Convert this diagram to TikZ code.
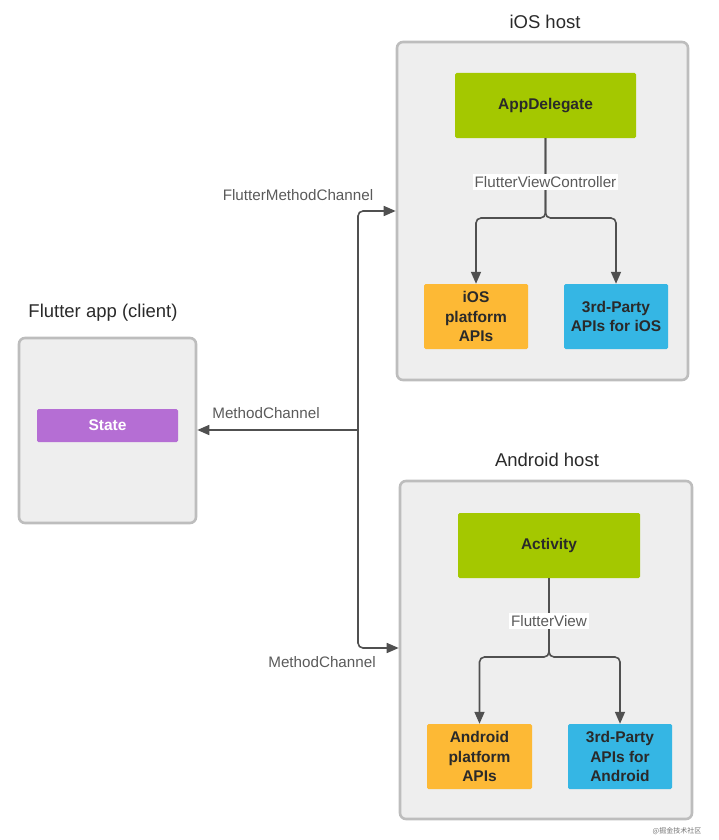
\documentclass[tikz,border=0pt]{standalone}
\usepackage{fontspec}
\setmainfont{Liberation Sans}
\newfontfamily\cjkfont{Noto Sans CJK SC}
\usetikzlibrary{arrows.meta}
\definecolor{hostfill}{HTML}{EEEEEE}
\definecolor{hostline}{HTML}{BDBDBD}
\definecolor{leafgreen}{HTML}{A4C800}
\definecolor{apiorange}{HTML}{FDB935}
\definecolor{apiblue}{HTML}{35B6E4}
\definecolor{statepurple}{HTML}{B56ED4}
\definecolor{conncol}{HTML}{505050}
\definecolor{labelcol}{HTML}{5A5A5A}
\definecolor{titlecol}{HTML}{2A2A2A}
\tikzset{
  hostbox/.style={draw=hostline, fill=hostfill, line width=2.6pt, rounded corners=6pt, inner sep=0pt},
  inner/.style={inner sep=0pt, align=center, font=\fontsize{15.5}{19.5}\selectfont\bfseries, text=titlecol, rounded corners=1.5pt},
  title/.style={font=\fontsize{18.5}{22}\selectfont, text=titlecol},
  chanlabel/.style={font=\fontsize{15.2}{18}\selectfont, text=labelcol, inner sep=2pt},
  conn/.style={draw=conncol, line width=1.6pt, rounded corners=5pt},
  arr/.style={conn, -{Triangle[length=12pt,width=10pt]}}
}
\begin{document}
\begin{tikzpicture}[x=1pt,y=-1pt]
\useasboundingbox (0,0) rectangle (718,840);

% host containers
\node[hostbox, minimum width=291pt, minimum height=338pt] (ios) at (542.5,211) {};
\node[hostbox, minimum width=292pt, minimum height=338pt] (android) at (546,650) {};
\node[hostbox, minimum width=177pt, minimum height=185pt] (client) at (107.5,430.5) {};

% titles
\node[title] (iostitle) at (545,22) {iOS host};
\node[title] (androidtitle) at (547,460) {Android host};
\node[title] (clienttitle) at (103,313) {Flutter app (client)};

% iOS contents
\node[inner, fill=leafgreen, minimum width=181pt, minimum height=65pt] (appdel) at (545.5,105.5) {AppDelegate};
\node[inner, fill=apiorange, minimum width=104pt, minimum height=65pt] (iosapi) at (476,316.5) {iOS\\platform\\APIs};
\node[inner, fill=apiblue, minimum width=104pt, minimum height=65pt] (iosthird) at (616,316.5) {3rd-Party\\APIs for iOS};
\coordinate (iossplit) at (545.5,218);
\draw[arr] (appdel.south) -- (iossplit) -| (iosapi.north);
\draw[arr] (appdel.south) -- (iossplit) -| (iosthird.north);
\node[chanlabel, fill=white] (fvc) at (545.5,182) {FlutterViewController};

% Android contents
\node[inner, fill=leafgreen, minimum width=182pt, minimum height=65pt] (activity) at (549,545.5) {Activity};
\node[inner, fill=apiorange, minimum width=105pt, minimum height=65pt] (andapi) at (479.5,756.5) {Android\\platform\\APIs};
\node[inner, fill=apiblue, minimum width=104pt, minimum height=65pt] (andthird) at (620,756.5) {3rd-Party\\APIs for\\Android};
\coordinate (andsplit) at (549,657);
\draw[arr] (activity.south) -- (andsplit) -| (andapi.north);
\draw[arr] (activity.south) -- (andsplit) -| (andthird.north);
\node[chanlabel, fill=white] (fv) at (549,621) {FlutterView};

% client contents
\node[inner, fill=statepurple, minimum width=141pt, minimum height=33pt, text=white] (state) at (107.5,425.5) {State};

% channels
\coordinate (junction) at (358,430);
\coordinate (iosin) at (ios.west |- 0,211);
\coordinate (andin) at (android.west |- 0,648);
\draw[arr] (junction) -- (client.east |- junction);
\draw[arr] (junction) |- (iosin);
\draw[arr] (junction) |- (andin);

\node[chanlabel] (fmc) at (298,195) {FlutterMethodChannel};
\node[chanlabel] (mc1) at (266,413) {MethodChannel};
\node[chanlabel] (mc2) at (322,662) {MethodChannel};

% watermark
\node[font=\cjkfont\fontsize{7}{8}\selectfont, text=black!55, inner sep=0pt] (wm) at (677,831) {@掘金技术社区};
\end{tikzpicture}
\end{document}
